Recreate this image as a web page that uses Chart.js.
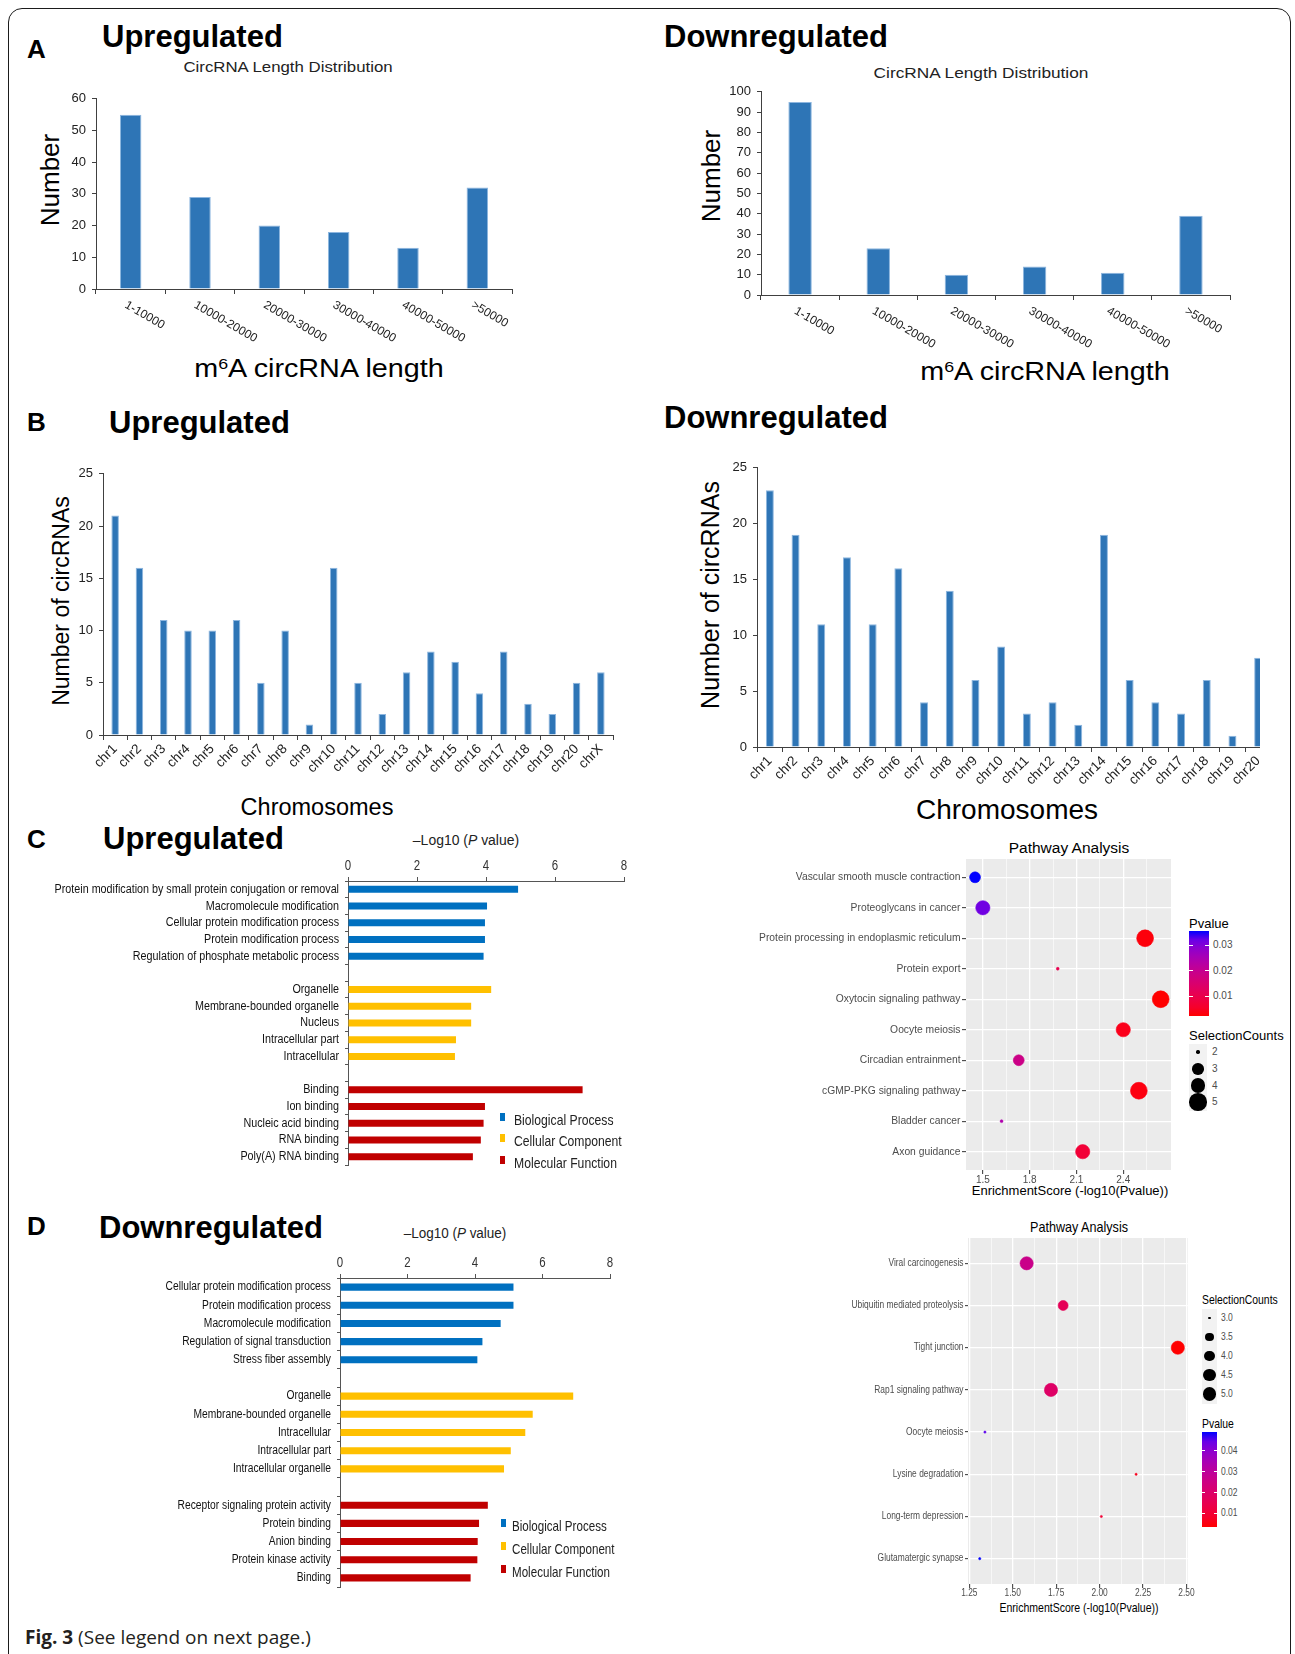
<!DOCTYPE html>
<html>
<head>
<meta charset="utf-8">
<title>Fig. 3</title>
<script src="https://cdn.jsdelivr.net/npm/chart.js@4.4.1/dist/chart.umd.min.js"></script>
<style>
  html, body { margin: 0; padding: 0; background: #fff; }
  body { position: relative; width: 1295px; height: 1654px; overflow: hidden;
         font-family: "Liberation Sans", Arial, sans-serif; color: #000; }
  .frame { position: absolute; left: 8px; top: 8px; width: 1283px; height: 1720px;
           border: 1.6px solid #1b1b1b; border-radius: 14px; box-sizing: border-box; }
  sup { font-size: 0.62em; position: relative; top: -0.5em; vertical-align: baseline; line-height: 0; }
</style>
</head>
<body>
<div class="frame"></div>
<script>
// ---------------- data ----------------
// circRNA length distribution
const lengthBins = ['1-10000', '10000-20000', '20000-30000', '30000-40000', '40000-50000', '>50000'];
const lengthCountsUp = [55, 29, 20, 18, 13, 32];
const lengthCountsDown = [95, 23, 10, 14, 11, 39];

// chromosome distribution
const chromsUp = ['chr1', 'chr2', 'chr3', 'chr4', 'chr5', 'chr6', 'chr7', 'chr8', 'chr9', 'chr10', 'chr11',
                  'chr12', 'chr13', 'chr14', 'chr15', 'chr16', 'chr17', 'chr18', 'chr19', 'chr20', 'chrX'];
const chromCountsUp = [21, 16, 11, 10, 10, 11, 5, 10, 1, 16, 5, 2, 6, 8, 7, 4, 8, 3, 2, 5, 6];
const chromsDown = ['chr1', 'chr2', 'chr3', 'chr4', 'chr5', 'chr6', 'chr7', 'chr8', 'chr9', 'chr10', 'chr11',
                    'chr12', 'chr13', 'chr14', 'chr15', 'chr16', 'chr17', 'chr18', 'chr19', 'chr20'];
const chromCountsDown = [23, 19, 11, 17, 11, 16, 4, 14, 6, 9, 3, 4, 2, 19, 6, 4, 3, 6, 1, 8];

// GO enrichment, upregulated (-log10 P)
const goGroups = ['Biological Process', 'Cellular Component', 'Molecular Function'];
const upBPTerms = ['Protein modification by small protein conjugation or removal', 'Macromolecule modification',
                   'Cellular protein modification process', 'Protein modification process',
                   'Regulation of phosphate metabolic process'];
const upBPLogP = [4.93, 4.03, 3.97, 3.97, 3.93];
const upCCTerms = ['Organelle', 'Membrane-bounded organelle', 'Nucleus', 'Intracellular part', 'Intracellular'];
const upCCLogP = [4.15, 3.57, 3.57, 3.13, 3.10];
const upMFTerms = ['Binding', 'Ion binding', 'Nucleic acid binding', 'RNA binding', 'Poly(A) RNA binding'];
const upMFLogP = [6.80, 3.97, 3.93, 3.85, 3.62];

// GO enrichment, downregulated (-log10 P)
const downBPTerms = ['Cellular protein modification process', 'Protein modification process',
                     'Macromolecule modification', 'Regulation of signal transduction', 'Stress fiber assembly'];
const downBPLogP = [5.14, 5.14, 4.76, 4.22, 4.07];
const downCCTerms = ['Organelle', 'Membrane-bounded organelle', 'Intracellular', 'Intracellular part',
                     'Intracellular organelle'];
const downCCLogP = [6.91, 5.71, 5.49, 5.06, 4.86];
const downMFTerms = ['Receptor signaling protein activity', 'Protein binding', 'Anion binding',
                     'Protein kinase activity', 'Binding'];
const downMFLogP = [4.38, 4.12, 4.08, 4.07, 3.87];

// KEGG pathway analysis, upregulated
const upPathways = ['Vascular smooth muscle contraction', 'Proteoglycans in cancer',
                    'Protein processing in endoplasmic reticulum', 'Protein export', 'Oxytocin signaling pathway',
                    'Oocyte meiosis', 'Circadian entrainment', 'cGMP-PKG signaling pathway', 'Bladder cancer',
                    'Axon guidance'];
const upEnrichment = [1.45, 1.50, 2.54, 1.98, 2.64, 2.40, 1.73, 2.50, 1.62, 2.14];
const upCounts = [3, 4, 5, 2, 5, 4, 3, 5, 2, 4];
const upPvalues = [0.0355, 0.0316, 0.0029, 0.0105, 0.0023, 0.0040, 0.0186, 0.0032, 0.0240, 0.0072];
const upCountKeys = [2, 3, 4, 5];
const upPvalueKeys = [0.01, 0.02, 0.03];

// KEGG pathway analysis, downregulated
const downPathways = ['Viral carcinogenesis', 'Ubiquitin mediated proteolysis', 'Tight junction',
                      'Rap1 signaling pathway', 'Oocyte meiosis', 'Lysine degradation', 'Long-term depression',
                      'Glutamatergic synapse'];
const downEnrichment = [1.58, 1.79, 2.45, 1.72, 1.34, 2.21, 2.01, 1.31];
const downCounts = [5, 4, 5, 5, 3, 3, 3, 3];
const downPvalues = [0.0263, 0.0162, 0.0035, 0.0191, 0.0457, 0.0062, 0.0098, 0.0490];
const downCountKeys = [3.0, 3.5, 4.0, 4.5, 5.0];
const downPvalueKeys = [0.01, 0.02, 0.03, 0.04];

// ---------------- styling ----------------
const SANS = '"Liberation Sans", Arial, sans-serif';
const AXIS = '#404040';
const BAR_BLUE = '#2E75B6';
const BAR_EDGE = '#8DB6DF';
const GO_COLORS = ['#0070C0', '#FFC000', '#C00000'];
const GREY30 = '#4D4D4D';

// positioned text; mode: l = left/middle, c = centre, r = right/middle, v = vertical centre
function txt(html, x, y, style, mode, sx) {
  const d = document.createElement('div');
  d.innerHTML = html;
  d.style.cssText = 'position:absolute;white-space:nowrap;line-height:1;left:' + x + 'px;top:' + y + 'px;' + (style || '');
  const m = mode || 'l';
  const squeeze = sx ? ' scaleX(' + sx + ')' : '';
  d.style.transformOrigin = { l: '0 50%', c: '50% 50%', r: '100% 50%', v: '50% 50%' }[m];
  d.style.transform = {
    l: 'translate(0,-50%)', c: 'translate(-50%,-50%)', r: 'translate(-100%,-50%)',
    v: 'translate(-50%,-50%) rotate(-90deg)'
  }[m] + squeeze;
  document.body.appendChild(d);
  return d;
}

function box(x, y, w, h, style) {
  const d = document.createElement('div');
  d.style.cssText = 'position:absolute;left:' + x + 'px;top:' + y + 'px;width:' + w + 'px;height:' + h + 'px;' + (style || '');
  document.body.appendChild(d);
  return d;
}

function makeCanvas(left, top, w, h, clipW) {
  const wrap = box(left, top, clipW || w, h, 'overflow:hidden;');
  const c = document.createElement('canvas');
  c.width = w; c.height = h;
  c.style.width = w + 'px'; c.style.height = h + 'px';
  wrap.appendChild(c);
  return c;
}

// red (low P) -> blue (high P), interpolated in CIE Lab
function toLin(c) { c /= 255; return c <= 0.04045 ? c / 12.92 : Math.pow((c + 0.055) / 1.055, 2.4); }
function fromLin(c) {
  c = c <= 0.0031308 ? 12.92 * c : 1.055 * Math.pow(c, 1 / 2.4) - 0.055;
  return Math.round(Math.max(0, Math.min(1, c)) * 255);
}
function rgbToLab(rgb) {
  const R = toLin(rgb[0]), G = toLin(rgb[1]), B = toLin(rgb[2]);
  const X = (0.4124 * R + 0.3576 * G + 0.1805 * B) / 0.95047;
  const Y = 0.2126 * R + 0.7152 * G + 0.0722 * B;
  const Z = (0.0193 * R + 0.1192 * G + 0.9505 * B) / 1.08883;
  const f = t => t > 0.008856 ? Math.cbrt(t) : 7.787 * t + 16 / 116;
  return [116 * f(Y) - 16, 500 * (f(X) - f(Y)), 200 * (f(Y) - f(Z))];
}
function labToRgb(lab) {
  const fy = (lab[0] + 16) / 116, fx = fy + lab[1] / 500, fz = fy - lab[2] / 200;
  const inv = t => t * t * t > 0.008856 ? t * t * t : (t - 16 / 116) / 7.787;
  const X = inv(fx) * 0.95047, Y = inv(fy), Z = inv(fz) * 1.08883;
  return [fromLin(3.2406 * X - 1.5372 * Y - 0.4986 * Z),
          fromLin(-0.9689 * X + 1.8758 * Y + 0.0415 * Z),
          fromLin(0.0557 * X - 0.2040 * Y + 1.0570 * Z)];
}
const LAB_RED = rgbToLab([255, 0, 0]), LAB_BLUE = rgbToLab([0, 0, 255]);
function pColor(t) {
  const lab = LAB_RED.map((v, i) => v + (LAB_BLUE[i] - v) * t);
  const c = labToRgb(lab);
  return 'rgb(' + c[0] + ',' + c[1] + ',' + c[2] + ')';
}

// point size: area-proportional, 1..6 size units
function sizeScale(counts, k) {
  const lo = Math.min(...counts), hi = Math.max(...counts);
  return v => 0.5 * k * (1 + 5 * Math.sqrt((v - lo) / (hi - lo)));
}

// ---------------- plugins ----------------
// category labels hanging down to the right of each bar
const slantLabels = {
  id: 'slantLabels',
  afterDraw(chart, args, o) {
    const sc = chart.scales.x, ctx = chart.ctx;
    ctx.save();
    ctx.font = o.font; ctx.fillStyle = o.color;
    ctx.textAlign = 'left'; ctx.textBaseline = 'top';
    sc.ticks.forEach((t, i) => {
      ctx.save();
      ctx.translate(sc.getPixelForTick(i) + o.dx, sc.top + o.dy);
      ctx.rotate(o.angle * Math.PI / 180);
      ctx.fillText(sc.getLabelForValue(t.value), 0, 0);
      ctx.restore();
    });
    ctx.restore();
  }
};

// tick labels set in a horizontally condensed face
function condensedLabels(specs) {
  return {
    id: 'condensedLabels',
    afterDraw(chart) {
      const ctx = chart.ctx;
      specs.forEach(s => {
        const sc = chart.scales[s.axis];
        ctx.save();
        ctx.font = s.font; ctx.fillStyle = s.color;
        sc.ticks.forEach((t, i) => {
          if (!t.label) return;
          const p = sc.getPixelForTick(i);
          ctx.save();
          if (sc.isHorizontal()) {
            const y = sc.position === 'top' ? sc.bottom - s.gap : sc.top + s.gap;
            ctx.translate(p, y);
            ctx.textAlign = 'center';
          } else {
            ctx.translate(sc.right - s.gap, p);
            ctx.textAlign = 'right';
          }
          ctx.textBaseline = 'middle';
          ctx.scale(s.sx, 1);
          ctx.fillText(t.label, 0, 0);
          ctx.restore();
        });
        ctx.restore();
      });
    }
  };
}

const panelBg = {
  id: 'panelBg',
  beforeDraw(chart, args, o) {
    const a = chart.chartArea, ctx = chart.ctx;
    ctx.save();
    ctx.fillStyle = o.color;
    ctx.fillRect(a.left, a.top, a.right - a.left, a.bottom - a.top);
    ctx.restore();
  }
};

// ---------------- chart builders ----------------
function countChart(cv, labels, values, o) {
  return new Chart(cv, {
    type: 'bar',
    data: {
      labels: labels,
      datasets: [{ data: values, backgroundColor: BAR_BLUE, borderColor: BAR_EDGE, borderWidth: 1,
                   barPercentage: o.barPct, categoryPercentage: 1 }]
    },
    options: {
      responsive: false, animation: false, events: [],
      layout: { padding: { top: o.padTop, right: o.padRight, left: 0, bottom: 0 } },
      plugins: { legend: { display: false }, tooltip: { enabled: false }, slantLabels: o.slant || false },
      scales: {
        x: {
          afterFit: s => { s.height = o.hx; },
          grid: { drawOnChartArea: false, tickLength: 5, color: AXIS, offset: true },
          border: { color: AXIS },
          ticks: o.slant ? { display: false } : {
            autoSkip: false, minRotation: 45, maxRotation: 45, padding: 1,
            font: { family: SANS, size: 13.5 }, color: '#222'
          }
        },
        y: {
          min: 0, max: o.yMax,
          afterFit: s => { s.width = o.wy; },
          grid: { drawOnChartArea: false, tickLength: 4, color: AXIS },
          border: { color: AXIS },
          ticks: { stepSize: o.yStep, padding: 6, font: { family: SANS, size: 13 }, color: '#222' }
        }
      }
    },
    plugins: o.slant ? [slantLabels] : []
  });
}

function goChart(cv, groups, o) {
  const labels = [];
  const sets = groups.map(() => []);
  groups.forEach((g, gi) => {
    if (gi > 0) { labels.push(''); sets.forEach(s => s.push(null)); }
    g.terms.forEach((t, i) => {
      labels.push(t);
      sets.forEach((s, si) => s.push(si === gi ? g.values[i] : null));
    });
  });
  return new Chart(cv, {
    type: 'bar',
    data: {
      labels: labels,
      datasets: groups.map((g, gi) => ({
        label: g.name, data: sets[gi], backgroundColor: g.color, grouped: false,
        barPercentage: o.barPct, categoryPercentage: 1
      }))
    },
    options: {
      indexAxis: 'y', responsive: false, animation: false, events: [],
      layout: { padding: { top: 0, right: o.padRight, left: 0, bottom: o.padBottom } },
      plugins: { legend: { display: false }, tooltip: { enabled: false } },
      scales: {
        x: {
          position: 'top', min: 0, max: 8,
          afterFit: s => { s.height = o.hx; },
          grid: { drawOnChartArea: false, tickLength: 4, color: '#555' },
          border: { color: '#555' },
          ticks: { stepSize: 2, display: false }
        },
        y: {
          afterFit: s => { s.width = o.wy; },
          grid: { drawOnChartArea: false, tickLength: 3, color: '#555', offset: true },
          border: { color: '#555' },
          ticks: { autoSkip: false, display: false }
        }
      }
    },
    plugins: [condensedLabels([
      { axis: 'x', font: '14px ' + SANS, color: '#333', gap: 14.5, sx: 0.82 },
      { axis: 'y', font: o.labelSize + 'px ' + SANS, color: '#111', gap: 9, sx: o.labelSx }
    ])]
  });
}

function pathwayChart(cv, terms, scores, counts, pvals, o) {
  const lo = Math.min(...pvals), hi = Math.max(...pvals);
  const rad = sizeScale(counts, o.k);
  const colors = pvals.map(p => pColor((p - lo) / (hi - lo)));
  const xTickList = o.xMajor.map(v => ({ value: v, minor: false }))
    .concat(o.xMinor.map(v => ({ value: v, minor: true })))
    .sort((a, b) => a.value - b.value);
  return new Chart(cv, {
    type: 'bubble',
    data: {
      datasets: [{
        data: terms.map((t, i) => ({ x: scores[i], y: i, r: rad(counts[i]) })),
        backgroundColor: colors, borderColor: colors, borderWidth: 0.6
      }]
    },
    options: {
      responsive: false, animation: false, events: [],
      layout: { padding: { top: o.padTop, right: o.padRight, left: 0, bottom: 0 } },
      plugins: { legend: { display: false }, tooltip: { enabled: false }, panelBg: { color: '#EBEBEB' } },
      scales: {
        x: {
          type: 'linear', min: o.xMin, max: o.xMax,
          afterFit: s => { s.height = o.hx; },
          afterBuildTicks: s => { s.ticks = xTickList.map(t => ({ value: t.value, minor: t.minor })); },
          grid: {
            color: '#FFFFFF', tickLength: 4, tickWidth: 1,
            lineWidth: c => (c.tick && c.tick.minor) ? 0.6 : 1.3,
            tickColor: c => (c.tick && c.tick.minor) ? 'rgba(0,0,0,0)' : '#333'
          },
          border: { display: false },
          ticks: {
            display: false, autoSkip: false,
            callback: (v, i, ticks) => ticks[i].minor ? '' : v.toFixed(o.dec)
          }
        },
        y: {
          type: 'linear', reverse: true, min: -0.6, max: terms.length - 0.4,
          afterFit: s => { s.width = o.wy; },
          afterBuildTicks: s => { s.ticks = terms.map((t, i) => ({ value: i })); },
          grid: { color: '#FFFFFF', lineWidth: 1.3, tickLength: o.yTick, tickColor: '#333', tickWidth: 1 },
          border: { display: false },
          ticks: { display: false, autoSkip: false, callback: v => terms[v] }
        }
      }
    },
    plugins: [panelBg, condensedLabels([
      { axis: 'x', font: '10px ' + SANS, color: GREY30, gap: o.xGap, sx: o.sx },
      { axis: 'y', font: o.labelSize + 'px ' + SANS, color: GREY30, gap: o.yTick + 1.5, sx: o.sx }
    ])]
  });
}

function goLegend(x, rows, textX, sx) {
  goGroups.forEach((name, i) => {
    box(x, rows[i] - 7, 5, 8, 'background:' + GO_COLORS[i] + ';');
    txt(name, textX, rows[i], 'font-size:14.5px;color:#222;', 'l', sx);
  });
}

function colorLegend(x, top, w, h, pvals, keys, labelX, sx) {
  const lo = Math.min(...pvals), hi = Math.max(...pvals);
  const stops = [];
  for (let i = 0; i <= 10; i++) stops.push(pColor(i / 10) + ' ' + (i * 10) + '%');
  box(x, top, w, h, 'background:linear-gradient(to top,' + stops.join(',') + ');');
  keys.forEach(v => {
    const y = top + h * (1 - (v - lo) / (hi - lo));
    box(x, y - 0.5, Math.round(w * 0.2), 1, 'background:#fff;');
    box(x + w - Math.round(w * 0.2), y - 0.5, Math.round(w * 0.2), 1, 'background:#fff;');
    txt(v.toFixed(2), labelX, y, 'font-size:10px;color:' + GREY30 + ';', 'l', sx);
  });
}

function sizeLegend(x, rows, keyW, keyH, counts, keys, k, labelX, dec, sx) {
  const rad = sizeScale(counts, k);
  keys.forEach((v, i) => {
    box(x, rows[i] - keyH / 2, keyW, keyH, 'background:#F2F2F2;');
    const r = rad(v) + 0.3;
    box(x + keyW / 2 - r, rows[i] - r, 2 * r, 2 * r, 'background:#000;border-radius:50%;');
    txt(v.toFixed(dec), labelX, rows[i], 'font-size:10px;color:' + GREY30 + ';', 'l', sx);
  });
}

// ---------------- headings ----------------
const LETTER = 'font-weight:bold;font-size:26px;';
const HEAD = 'font-weight:bold;font-size:31px;';
txt('A', 27, 48.5, LETTER);
txt('Upregulated', 102, 36, HEAD);
txt('Downregulated', 664, 36, HEAD);
txt('B', 27, 421.5, LETTER);
txt('Upregulated', 109, 422, HEAD);
txt('Downregulated', 664, 417, HEAD);
txt('C', 27, 838.5, LETTER);
txt('Upregulated', 103, 838, HEAD);
txt('D', 27, 1225.5, LETTER);
txt('Downregulated', 99, 1227, HEAD);

// ---------------- A: length distribution ----------------
txt('CircRNA Length Distribution', 288, 66, 'font-size:15px;color:#222;', 'c', 1.12);
txt('Number', 49.5, 180, 'font-size:26px;', 'v');
txt('m<sup>6</sup>A circRNA length', 319, 368, 'font-size:25px;', 'c', 1.15);
countChart(makeCanvas(50, 85, 470, 300), lengthBins, lengthCountsUp, {
  yMax: 60, yStep: 10, wy: 46, hx: 96, padTop: 10, padRight: 8, barPct: 0.31,
  slant: { font: '12px ' + SANS, color: '#222', angle: 30, dx: -2, dy: 10 }
});

txt('CircRNA Length Distribution', 981, 72, 'font-size:15px;color:#222;', 'c', 1.15);
txt('Number', 711, 176, 'font-size:26px;', 'v');
txt('m<sup>6</sup>A circRNA length', 1045, 371, 'font-size:25px;', 'c', 1.15);
countChart(makeCanvas(715, 78, 525, 300), lengthBins, lengthCountsDown, {
  yMax: 100, yStep: 10, wy: 46, hx: 83, padTop: 10, padRight: 10, barPct: 0.3,
  slant: { font: '12px ' + SANS, color: '#222', angle: 30, dx: -2, dy: 10 }
});

// ---------------- B: chromosome distribution ----------------
txt('Number of circRNAs', 61, 601, 'font-size:23px;', 'v');
txt('Chromosomes', 317, 808, 'font-size:23.5px;', 'c');
countChart(makeCanvas(55, 460, 565, 335), chromsUp, chromCountsUp, {
  yMax: 25, yStep: 5, wy: 48, hx: 60, padTop: 9, padRight: 7, barPct: 0.31
});

txt('Number of circRNAs', 710, 595, 'font-size:25px;', 'v');
txt('Chromosomes', 1007, 810, 'font-size:28px;', 'c');
countChart(makeCanvas(710, 454, 570, 350, 550), chromsDown, chromCountsDown, {
  yMax: 25, yStep: 5, wy: 47, hx: 57, padTop: 9, padRight: 9, barPct: 0.31
});

// ---------------- C: GO + pathways, upregulated ----------------
txt('&#8211;Log10 (<i>P</i> value)', 466, 840, 'font-size:15.5px;color:#222;', 'c', 0.9);
goChart(makeCanvas(40, 848, 600, 322), [
  { name: goGroups[0], terms: upBPTerms, values: upBPLogP, color: GO_COLORS[0] },
  { name: goGroups[1], terms: upCCTerms, values: upCCLogP, color: GO_COLORS[1] },
  { name: goGroups[2], terms: upMFTerms, values: upMFLogP, color: GO_COLORS[2] }
], { wy: 308, hx: 33, padRight: 16, padBottom: 5, barPct: 0.42, labelSize: 12.5, labelSx: 0.86 });
goLegend(500, [1120, 1141, 1163], 514, 0.84);

txt('Pathway Analysis', 1069, 848, 'font-size:15.5px;', 'c');
txt('EnrichmentScore (-log10(Pvalue))', 1070, 1190, 'font-size:13px;', 'c');
pathwayChart(makeCanvas(740, 850, 440, 345), upPathways, upEnrichment, upCounts, upPvalues, {
  k: 2.8, xMin: 1.392, xMax: 2.706, xMajor: [1.5, 1.8, 2.1, 2.4], xMinor: [1.65, 1.95, 2.25, 2.55],
  dec: 1, wy: 226, hx: 25, padTop: 8, padRight: 6, yTick: 4, labelSize: 10.3, sx: 1, xGap: 10
});
txt('Pvalue', 1189, 923, 'font-size:13px;');
colorLegend(1189, 931, 20, 85, upPvalues, upPvalueKeys, 1213, 1);
txt('SelectionCounts', 1189, 1035, 'font-size:13px;');
sizeLegend(1189, [1052, 1069, 1085.5, 1102], 18, 17, upCounts, upCountKeys, 2.8, 1212, 0, 1);

// ---------------- D: GO + pathways, downregulated ----------------
txt('&#8211;Log10 (<i>P</i> value)', 455, 1233, 'font-size:15.5px;color:#222;', 'c', 0.87);
goChart(makeCanvas(30, 1244, 590, 348), [
  { name: goGroups[0], terms: downBPTerms, values: downBPLogP, color: GO_COLORS[0] },
  { name: goGroups[1], terms: downCCTerms, values: downCCLogP, color: GO_COLORS[1] },
  { name: goGroups[2], terms: downMFTerms, values: downMFLogP, color: GO_COLORS[2] }
], { wy: 310, hx: 34, padRight: 10, padBottom: 5, barPct: 0.39, labelSize: 12, labelSx: 0.855 });
goLegend(501, [1526, 1549, 1572], 512, 0.8);

txt('Pathway Analysis', 1079, 1226, 'font-size:15px;', 'c', 0.84);
txt('EnrichmentScore (-log10(Pvalue))', 1079, 1607, 'font-size:13px;', 'c', 0.81);
pathwayChart(makeCanvas(820, 1230, 375, 380), downPathways, downEnrichment, downCounts, downPvalues, {
  k: 2.2, xMin: 1.2425, xMax: 2.5075, xMajor: [1.25, 1.5, 1.75, 2.0, 2.25, 2.5],
  xMinor: [1.375, 1.625, 1.875, 2.125, 2.375],
  dec: 2, wy: 148, hx: 26, padTop: 8, padRight: 6, yTick: 3, labelSize: 10, sx: 0.84, xGap: 9.5
});
txt('SelectionCounts', 1202, 1299, 'font-size:13px;', 'l', 0.8);
sizeLegend(1202, [1318, 1337, 1356, 1375, 1394], 15, 19, downCounts, downCountKeys, 2.2, 1221, 1, 0.85);
txt('Pvalue', 1202, 1423, 'font-size:13px;', 'l', 0.8);
colorLegend(1202, 1432, 15, 95, downPvalues, downPvalueKeys, 1221, 0.85);

// ---------------- caption ----------------
txt('<b>Fig. 3</b> (See legend on next page.)', 25, 1637,
    'font-family:"Open Sans", "Liberation Sans", sans-serif;font-size:19px;color:#231f20;');
</script>
</body>
</html>
